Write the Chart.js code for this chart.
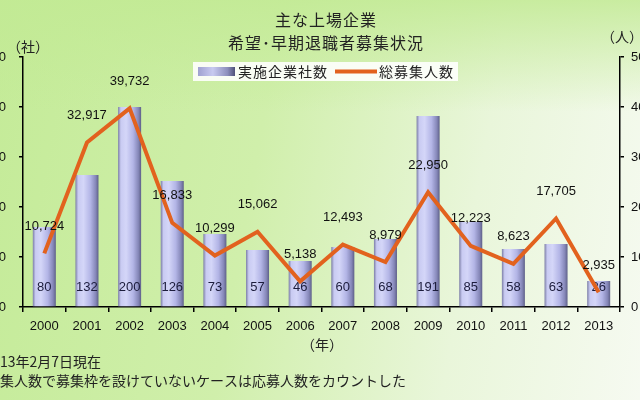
<!DOCTYPE html>
<html lang="ja">
<head>
<meta charset="utf-8">
<script src="https://cdn.jsdelivr.net/npm/chart.js@4.4.1/dist/chart.umd.min.js"></script>
<style>
  html, body { margin: 0; padding: 0; overflow: hidden; }
  body {
    width: 640px;
    height: 400px;
    background:
      linear-gradient(to bottom, rgba(194, 234, 148, 0.85) 0%, rgba(194, 234, 148, 0) 28%),
      linear-gradient(100deg, #c4eb98 0%, #d0efab 40%, #e9f6da 72%, #f6faf1 100%);
  }
  canvas { display: block; }
</style>
</head>
<body>
<canvas id="chart" width="640" height="400"></canvas>
<script>
const YEARS = ["2000", "2001", "2002", "2003", "2004", "2005", "2006", "2007", "2008", "2009", "2010", "2011", "2012", "2013"];
const COMPANIES = [80, 132, 200, 126, 73, 57, 46, 60, 68, 191, 85, 58, 63, 26];
const PEOPLE = [10724, 32917, 39732, 16833, 10299, 15062, 5138, 12493, 8979, 22950, 12223, 8623, 17705, 2935];

const TITLE_LINES = ["主な上場企業", "希望･早期退職者募集状況"];
const LEGEND_BAR = "実施企業社数";
const LEGEND_LINE = "総募集人数";
const UNIT_LEFT = "（社）";
const UNIT_RIGHT = "（人）";
const UNIT_X = "（年）";
const NOTES = ["13年2月7日現在", "集人数で募集枠を設けていないケースは応募人数をカウントした"];

const JP = '"Noto Sans CJK JP", "Noto Sans", sans-serif';
const NUM = '"Liberation Sans", Arial, sans-serif';
const ORANGE = "#e2621e";

const barGradient = (ctx, left, right) => {
  const g = ctx.createLinearGradient(left, 0, right, 0);
  g.addColorStop(0, "#7c7ea6");
  g.addColorStop(0.12, "#c9cbf2");
  g.addColorStop(0.35, "#d4d6f8");
  g.addColorStop(0.65, "#b3b5e6");
  g.addColorStop(0.88, "#8587b8");
  g.addColorStop(1, "#5e6088");
  return g;
};

// bars get a cylinder-like shading based on where the library placed them
const barShading = {
  id: "barShading",
  beforeDatasetDraw(chart, args) {
    if (args.index !== 0) return;
    const { ctx } = chart;
    args.meta.data.forEach((bar) => {
      const half = bar.width / 2;
      bar.options = Object.assign({}, bar.options, {
        backgroundColor: barGradient(ctx, bar.x - half, bar.x + half)
      });
    });
  },
  afterDatasetDraw(chart, args) {
    const { ctx } = chart;
    ctx.save();
    ctx.textAlign = "center";
    ctx.textBaseline = "middle";
    ctx.font = `13px ${NUM}`;
    if (args.index === 0) {
      ctx.fillStyle = "#1c1c3c";
      args.meta.data.forEach((bar, i) => {
        ctx.fillText(String(COMPANIES[i]), bar.x, chart.chartArea.bottom - 20);
      });
    } else {
      ctx.fillStyle = "#111";
      args.meta.data.forEach((pt, i) => {
        ctx.fillText(PEOPLE[i].toLocaleString("en-US"), pt.x, pt.y - 27);
      });
    }
    ctx.restore();
  }
};

const decorations = {
  id: "decorations",
  afterDraw(chart) {
    const { ctx } = chart;
    ctx.save();
    ctx.fillStyle = "#222";
    ctx.textBaseline = "middle";

    // title
    ctx.textAlign = "center";
    ctx.font = `16px ${JP}`;
    ctx.letterSpacing = "1px";
    ctx.fillText(TITLE_LINES[0], 326, 20);
    ctx.fillText(TITLE_LINES[1], 326, 43);

    // legend box
    ctx.fillStyle = "rgba(255, 255, 255, 0.88)";
    ctx.fillRect(193, 62, 265, 19);
    const sw = ctx.createLinearGradient(198, 0, 235, 0);
    sw.addColorStop(0, "#9fa1d0");
    sw.addColorStop(0.4, "#c8caf0");
    sw.addColorStop(0.8, "#8c8ebc");
    sw.addColorStop(1, "#4e5078");
    ctx.fillStyle = sw;
    ctx.fillRect(198, 67, 37, 9);
    ctx.strokeStyle = ORANGE;
    ctx.lineWidth = 4;
    ctx.beginPath();
    ctx.moveTo(335, 71.5);
    ctx.lineTo(377, 71.5);
    ctx.stroke();
    ctx.fillStyle = "#222";
    ctx.textAlign = "left";
    ctx.font = `14px ${JP}`;
    ctx.fillText(LEGEND_BAR, 238, 72);
    ctx.fillText(LEGEND_LINE, 379, 72);

    // units
    ctx.letterSpacing = "0px";
    ctx.textAlign = "center";
    ctx.font = `14px ${JP}`;
    ctx.fillText(UNIT_LEFT, 28, 47);
    ctx.fillText(UNIT_RIGHT, 622, 37);
    ctx.fillText(UNIT_X, 322, 345);

    // notes
    ctx.textAlign = "left";
    ctx.fillText(NOTES[0], 0, 362);
    ctx.fillText(NOTES[1], 0, 381);
    ctx.restore();
  }
};

const axisLine = { color: "#000", width: 1.5 };

new Chart(document.getElementById("chart"), {
  data: {
    labels: YEARS,
    datasets: [
      {
        type: "bar",
        label: LEGEND_BAR,
        data: COMPANIES,
        yAxisID: "y",
        backgroundColor: () => "#b4b6e8",
        barPercentage: 0.54,
        categoryPercentage: 1,
        order: 1
      },
      {
        type: "line",
        label: LEGEND_LINE,
        data: PEOPLE,
        yAxisID: "y1",
        borderColor: ORANGE,
        borderWidth: 4,
        borderJoinStyle: "miter",
        pointRadius: 0,
        tension: 0,
        order: 0
      }
    ]
  },
  options: {
    responsive: false,
    animation: false,
    devicePixelRatio: 1,
    layout: { padding: { top: 57, left: 0, right: 0, bottom: 0 } },
    plugins: {
      legend: { display: false },
      title: { display: false },
      tooltip: { enabled: false }
    },
    scales: {
      x: {
        offset: true,
        grid: { offset: true, drawOnChartArea: false, tickLength: 5, color: "#000", lineWidth: 1.5 },
        border: axisLine,
        ticks: { color: "#111", font: { family: NUM, size: 13 }, padding: 7, maxRotation: 0 },
        afterFit: (s) => { s.height = 93; }
      },
      y: {
        position: "left",
        min: 0,
        max: 250,
        grid: { drawOnChartArea: false, tickLength: 4, color: "#000", lineWidth: 1.5 },
        border: axisLine,
        ticks: { stepSize: 50, color: "#111", font: { family: NUM, size: 13 }, padding: 13 },
        afterFit: (s) => { s.width = 23; }
      },
      y1: {
        position: "right",
        min: 0,
        max: 50000,
        grid: { drawOnChartArea: false, tickLength: 4, color: "#000", lineWidth: 1.5 },
        border: axisLine,
        ticks: { stepSize: 10000, color: "#111", font: { family: NUM, size: 13 }, padding: 7 },
        afterFit: (s) => { s.width = 20; }
      }
    }
  },
  plugins: [barShading, decorations]
});
</script>
</body>
</html>
